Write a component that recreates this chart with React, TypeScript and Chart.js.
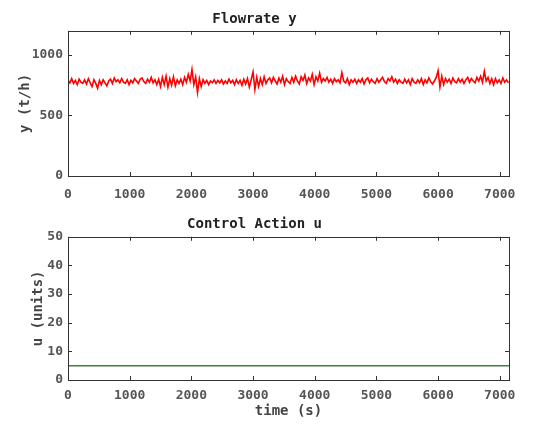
import React, { useEffect, useRef } from "react";
import { Chart, registerables } from "chart.js";

Chart.register(...registerables);

// ---- data ----
const timeStep = 30; // seconds between flow samples
const flowValues: number[] = [
  790, 770, 805, 765, 790, 755, 800, 775, 765, 795,
  760, 805, 770, 740, 795, 765, 725, 790, 755, 795,
  770, 745, 785, 800, 765, 810, 780, 795, 770, 805,
  775, 765, 795, 755, 790, 770, 805, 785, 765, 800,
  810, 780, 765, 800, 775, 815, 770, 795, 755, 800,
  740, 815, 755, 825, 735, 805, 750, 820, 745, 795,
  765, 800, 755, 815, 775, 840, 785, 880, 755, 820,
  690, 805, 740, 795, 765, 790, 755, 785, 770, 795,
  765, 790, 770, 795, 760, 785, 765, 800, 770, 790,
  755, 795, 765, 790, 750, 800, 760, 805, 735, 795,
  860, 715, 815, 740, 805, 755, 820, 765, 795, 810,
  770, 815, 785, 760, 810, 775, 825, 755, 805, 780,
  765, 815, 775, 825, 785, 760, 820, 790, 835, 765,
  810, 785, 840, 755, 820, 785, 850, 775, 805, 785,
  815, 775, 800, 765, 805, 780, 795, 770, 855, 785,
  770, 805, 755, 795, 775, 800, 765, 795, 775, 805,
  760, 795, 810, 770, 800, 780, 765, 805, 775, 795,
  815, 780, 765, 805, 785, 820, 775, 800, 765, 795,
  775, 765, 800, 770, 795, 755, 805, 775, 765, 795,
  770, 805, 755, 795, 770, 810, 780, 760, 785, 815,
  870, 735, 825, 755, 805, 775, 800, 765, 810, 780,
  770, 805, 775, 800, 765, 795, 815, 775, 805, 785,
  770, 815, 785, 825, 775, 865, 785, 815, 765, 805,
  755, 805, 770, 795, 765, 810, 775, 795, 770,
];
const uTimes: number[] = [0, 7150];
const uValues: number[] = [5, 5];

const xMax = 7150;
const xTicks: number[] = [0, 1000, 2000, 3000, 4000, 5000, 6000, 7000];
const yTicksFlow: number[] = [0, 500, 1000];
const yTicksU: number[] = [0, 10, 20, 30, 40, 50];

const FONT = "'DejaVu Sans Mono', monospace";

const framePlugin = {
  id: "frameTicks",
  afterDatasetsDraw(chart: any) {
    const { ctx, chartArea } = chart;
    const { left, right, top, bottom } = chartArea;
    ctx.save();
    ctx.strokeStyle = "#333";
    ctx.lineWidth = 1;
    ctx.strokeRect(Math.round(left) + 0.5, Math.round(top) + 0.5, Math.round(right - left), Math.round(bottom - top));
    const xs = chart.scales.x;
    const ys = chart.scales.y;
    const len = 4;
    ctx.beginPath();
    xs.ticks.forEach((t: any) => {
      const px = Math.round(xs.getPixelForValue(t.value)) + 0.5;
      ctx.moveTo(px, bottom);
      ctx.lineTo(px, bottom - len);
      ctx.moveTo(px, top);
      ctx.lineTo(px, top + len);
    });
    ys.ticks.forEach((t: any) => {
      const py = Math.round(ys.getPixelForValue(t.value)) + 0.5;
      ctx.moveTo(left, py);
      ctx.lineTo(left + len, py);
      ctx.moveTo(right, py);
      ctx.lineTo(right - len, py);
    });
    ctx.stroke();
    ctx.restore();
  },
};

function makeOptions(cfg: {
  title: string;
  titlePad: { top: number; bottom: number };
  yMax: number;
  yTicks: number[];
  yLabel: string;
  yLabelPad: number;
  xAxisHeight: number;
  xTickPad: number;
  xLabel?: string;
}) {
  return {
    responsive: false,
    animation: false as const,
    layout: { padding: { left: 0, right: 43, top: 0, bottom: 0 } },
    plugins: {
      legend: { display: false },
      tooltip: { enabled: false },
      title: {
        display: true,
        text: cfg.title,
        color: "#222",
        font: { family: FONT, size: 14, weight: "bold" as const, lineHeight: 1.2 },
        padding: cfg.titlePad,
      },
    },
    scales: {
      x: {
        type: "linear" as const,
        min: 0,
        max: xMax,
        afterBuildTicks: (s: any) => {
          s.ticks = xTicks.map((v) => ({ value: v }));
        },
        afterFit: (s: any) => {
          s.height = cfg.xAxisHeight;
        },
        grid: { display: false, drawTicks: false },
        border: { display: false },
        ticks: {
          color: "#555",
          font: { family: FONT, size: 13, weight: "bold" as const },
          padding: cfg.xTickPad,
          maxRotation: 0,
          autoSkip: false,
          callback: (v: any) => String(v),
        },
        title: cfg.xLabel
          ? {
              display: true,
              text: cfg.xLabel,
              color: "#444",
              font: { family: FONT, size: 14, weight: "bold" as const, lineHeight: 1.2 },
              padding: { top: 0, bottom: 4 },
            }
          : { display: false },
      },
      y: {
        type: "linear" as const,
        min: 0,
        max: cfg.yMax,
        afterBuildTicks: (s: any) => {
          s.ticks = cfg.yTicks.map((v) => ({ value: v }));
        },
        afterFit: (s: any) => {
          s.width = 68;
        },
        grid: { display: false, drawTicks: false },
        border: { display: false },
        ticks: {
          color: "#555",
          font: { family: FONT, size: 13, weight: "bold" as const },
          padding: 5,
          autoSkip: false,
          callback: (v: any) => String(v),
        },
        title: {
          display: true,
          text: cfg.yLabel,
          color: "#444",
          font: { family: FONT, size: 14, weight: "bold" as const, lineHeight: 1.2 },
          padding: { top: cfg.yLabelPad, bottom: 0 },
        },
      },
    },
  };
}

export default function App() {
  const topRef = useRef<HTMLCanvasElement>(null);
  const botRef = useRef<HTMLCanvasElement>(null);

  useEffect(() => {
    const flowData = flowValues.map((v, i) => ({ x: i * timeStep, y: v }));
    const uData = uValues.map((v, i) => ({ x: uTimes[i], y: v }));

    const c1 = new Chart(topRef.current!, {
      type: "line",
      data: {
        datasets: [
          {
            data: flowData,
            borderColor: "#ff0000",
            borderWidth: 1.6,
            pointRadius: 0,
            tension: 0,
          },
        ],
      },
      options: makeOptions({
        title: "Flowrate y",
        titlePad: { top: 11, bottom: 3 },
        yMax: 1200,
        yTicks: yTicksFlow,
        yLabel: "y (t/h)",
        yLabelPad: 17,
        xAxisHeight: 24,
        xTickPad: 11,
      }) as any,
      plugins: [framePlugin],
    });

    const c2 = new Chart(botRef.current!, {
      type: "line",
      data: {
        datasets: [
          {
            data: uData,
            borderColor: "#3f7f3f",
            borderWidth: 1.4,
            pointRadius: 0,
          },
        ],
      },
      options: makeOptions({
        title: "Control Action u",
        titlePad: { top: 16, bottom: 4 },
        yMax: 50,
        yTicks: yTicksU,
        yLabel: "u (units)",
        yLabelPad: 30,
        xAxisHeight: 44,
        xTickPad: 8,
        xLabel: "time (s)",
      }) as any,
      plugins: [framePlugin],
    });

    return () => {
      c1.destroy();
      c2.destroy();
    };
  }, []);

  return (
    <div style={{ position: "absolute", left: 0, top: 0, width: 552, height: 424, background: "#fff" }}>
      <canvas ref={topRef} width={552} height={200} style={{ display: "block", width: 552, height: 200 }} />
      <canvas ref={botRef} width={552} height={224} style={{ display: "block", width: 552, height: 224 }} />
    </div>
  );
}
